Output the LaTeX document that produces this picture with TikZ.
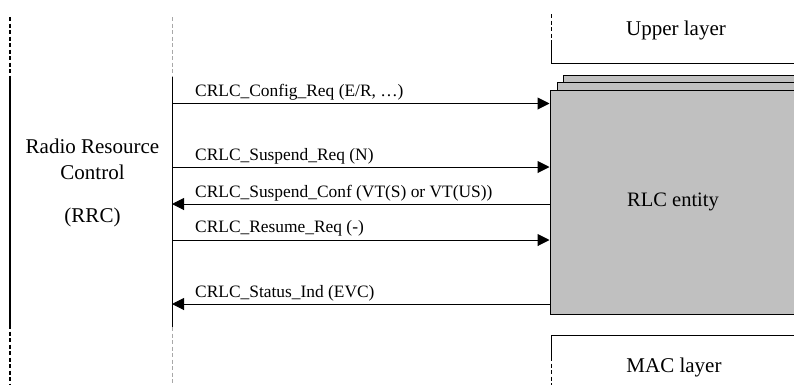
\documentclass[tikz,border=0pt]{standalone}
\usepackage{fontspec}
\setmainfont{Liberation Serif}
\usepackage{tikz}
\usetikzlibrary{positioning, arrows.meta}
\definecolor{rlcgray}{HTML}{C0C0C0}
\definecolor{dashgray}{HTML}{A8A8A8}

\begin{document}
\begin{tikzpicture}[
  x=1bp, y=-1bp,
  solidline/.style={draw=black, line width=1bp},
  dashline/.style={draw=#1, line width=1bp, dash pattern=on 4bp off 2.5bp},
  msg/.style={draw=black, line width=1bp, -{Triangle[length=12bp,width=12bp]}},
  lbl/.style={font=\fontsize{17.4bp}{20bp}\selectfont, inner sep=0pt, anchor=base west},
  bigtxt/.style={font=\fontsize{21bp}{26bp}\selectfont, inner sep=0pt, align=center, anchor=base},
  layer/.style={rectangle, draw=black, line width=1bp, fill=rlcgray, inner sep=0pt},
]
\useasboundingbox (0,0) rectangle (794,385);

% RRC side
\draw[dashline=black, line width=1.3bp] (10,17) -- (10,77);
\draw[solidline, line width=1.3bp] (10,77) -- (10,325);
\draw[dashline=black, line width=1.3bp] (10,325) -- (10,385);
\node[bigtxt] (rrc) at (92.5,222) {Radio Resource\\Control\\[17bp](RRC)};

% lifeline
\draw[dashline=dashgray, line width=0.7bp] (172,17) -- (172,77);
\draw[solidline] (172,77) -- (172,327);
\draw[dashline=dashgray, line width=0.7bp] (172,327) -- (172,383);

% Upper layer
\draw[dashline=black] (551,14) -- (551,40);
\draw[solidline] (551,40) -- (551,63) -- (800,63);
\node[bigtxt] (upper) at (676,35) {Upper layer};

% RLC entity (stacked)
\draw[layer] (563,75) rectangle (800,200);
\draw[layer] (557,82) rectangle (800,200);
\node[layer, minimum width=246bp, minimum height=224bp,
  font=\fontsize{20.5bp}{24bp}\selectfont] (rlc) at (673,202) {RLC entity};

% MAC layer
\draw[solidline] (800,335) -- (551,335) -- (551,357);
\draw[dashline=black] (551,357) -- (551,385);
\node[bigtxt] (mac) at (674,372) {MAC layer};

% primitives
\coordinate (cfg)  at (172,103.5);
\coordinate (susq) at (172,167);
\coordinate (susc) at (172,204);
\coordinate (resq) at (172,240);
\coordinate (stat) at (172,304);

\draw[msg] (cfg) -- (cfg -| rlc.west);
\path (cfg) ++(23,-7) node[lbl] {CRLC\_Config\_Req (E/R, …)};

\draw[msg] (susq) -- (susq -| rlc.west);
\path (susq) ++(23,-7) node[lbl] {CRLC\_Suspend\_Req (N)};

\draw[msg] (susc -| rlc.west) -- (susc);
\path (susc) ++(23,-7) node[lbl] {CRLC\_Suspend\_Conf (VT(S) or VT(US))};

\draw[msg] (resq) -- (resq -| rlc.west);
\path (resq) ++(23,-8) node[lbl] {CRLC\_Resume\_Req (-)};

\draw[msg] (stat -| rlc.west) -- (stat);
\path (stat) ++(23,-7) node[lbl] {CRLC\_Status\_Ind (EVC)};

\end{tikzpicture}
\end{document}
